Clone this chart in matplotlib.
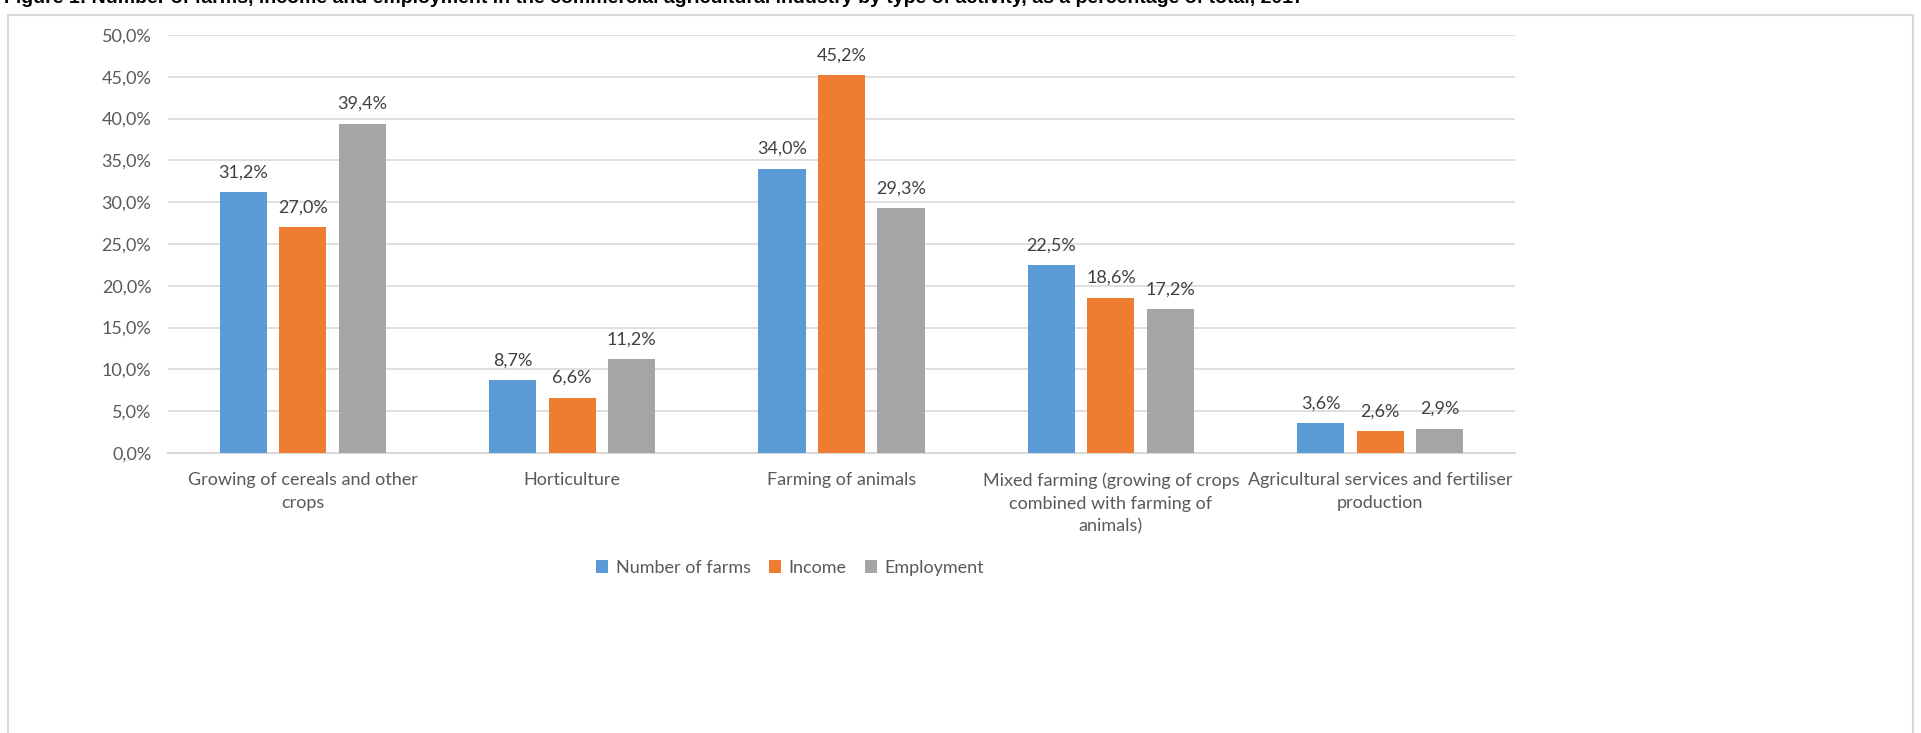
import numpy as np
import matplotlib.pyplot as plt
from matplotlib.patches import Rectangle
from matplotlib.ticker import FuncFormatter

plt.rcParams['font.family'] = ['Lato', 'DejaVu Sans']

# data
categories = [
    "Growing of cereals and other\ncrops",
    "Horticulture",
    "Farming of animals",
    "Mixed farming (growing of crops\ncombined with farming of\nanimals)",
    "Agricultural services and fertiliser\nproduction",
]
series_names = ["Number of farms", "Income", "Employment"]
farms = [31.2, 8.7, 34.0, 22.5, 3.6]
income = [27.0, 6.6, 45.2, 18.6, 2.6]
employment = [39.4, 11.2, 29.3, 17.2, 2.9]
colors = ["#5b9bd5", "#ed7d31", "#a5a5a5"]

fig = plt.figure(figsize=(19.21, 7.33), dpi=100)
ax = fig.add_axes([168 / 1921, 1 - 453 / 733, (1515 - 168) / 1921, (453 - 35) / 733])

# outer chart frame
fig.patches.append(Rectangle((8 / 1921, -0.01), (1913 - 8) / 1921, 1 - 15 / 733 + 0.01,
                             transform=fig.transFigure, fill=False,
                             edgecolor="#d9d9d9", linewidth=1.5))

# title line, clipped at the top edge as in the source image
fig.text(0.002, 1 - 3 / 733, "Figure 1: Number of farms, income and employment in the commercial agricultural "
         "industry by type of activity, as a percentage of total, 2017",
         fontsize=14, fontweight="bold", family=["Liberation Sans"], va="baseline", ha="left")

x = np.arange(len(categories))
step = 0.221
width = 0.175
for i, (name, vals) in enumerate(zip(series_names, [farms, income, employment])):
    pos = x + (i - 1) * step
    bars = ax.bar(pos, vals, width, color=colors[i], label=name, zorder=3)
    for b, v in zip(bars, vals):
        ax.text(b.get_x() + b.get_width() / 2, v + 1.4, f"{v:.1f}%".replace(".", ","),
                ha="center", va="bottom", fontsize=13, color="#404040")

ax.set_xlim(-0.5, len(categories) - 0.5)
ax.set_ylim(0, 50)
ax.set_yticks(np.arange(0, 50.1, 5))
ax.yaxis.set_major_formatter(FuncFormatter(lambda v, p: f"{v:.1f}%".replace(".", ",")))
ax.set_xticks(x)
ax.set_xticklabels(categories, fontsize=13, color="#595959", linespacing=1.5)
ax.tick_params(axis="y", labelsize=13, labelcolor="#595959", length=0, pad=12)
ax.tick_params(axis="x", length=0, pad=14)
ax.grid(axis="y", color="#d9d9d9", linewidth=1.2, zorder=0)
for s in ["top", "right", "left"]:
    ax.spines[s].set_visible(False)
ax.spines["bottom"].set_color("#d9d9d9")
ax.spines["bottom"].set_linewidth(1.5)

fig.legend(loc="center", bbox_to_anchor=(790 / 1921, 1 - 568 / 733), ncol=3, frameon=False,
           fontsize=13, handlelength=0.7, handleheight=0.7, handletextpad=0.4, columnspacing=1.0,
           labelcolor="#595959")

fig.savefig("out.png", dpi=100)
